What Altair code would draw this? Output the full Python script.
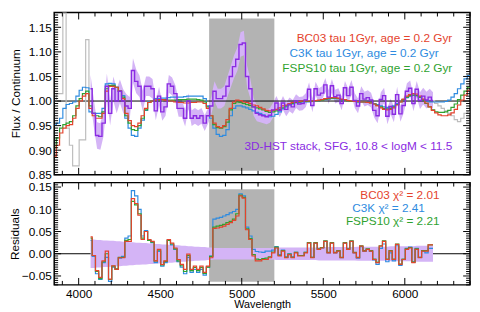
import altair as alt
import numpy as np
import pandas as pd

FONT = "Liberation Sans"

# ---- wavelength grid (bin centres, 20 A bins) ----
WAVE_START = 3853
WAVE_STEP = 20

# ---- model spectra (flux / continuum), bins 0..128 ----
BC03 = [0.888, 0.910, 0.935, 0.945, 0.950, 0.952, 0.965, 0.985, 1.000, 1.010,
        1.015, 0.985, 0.970, 0.965, 0.965, 0.975, 1.020, 1.030, 1.030, 1.028,
        1.020, 1.005, 0.975, 0.960, 0.950, 0.948, 0.955, 0.970, 0.985, 0.997,
        1.000, 1.002, 1.003, 1.003, 1.002, 1.000, 1.000, 0.998, 0.997, 0.997,
        0.996, 0.996, 0.997, 0.997, 0.998, 0.998, 0.995, 0.985, 0.970, 0.955,
        0.948, 0.946, 0.950, 0.962, 0.985, 0.998, 1.002, 1.001, 0.998, 0.997,
        0.995, 0.992, 0.990, 0.987, 0.984, 0.981, 0.980, 0.981, 0.983, 0.986,
        0.990, 0.992, 0.995, 0.997, 0.998, 0.999, 1.000, 1.000, 1.000, 1.000,
        1.001, 1.002, 1.003, 1.005, 1.006, 1.007, 1.007, 1.006, 1.004, 1.003,
        1.001, 1.000, 0.999, 0.999, 0.998, 0.998, 0.997, 0.996, 0.994, 0.990,
        0.986, 0.983, 0.982, 0.983, 0.986, 0.992, 0.998, 1.004, 1.010, 1.013,
        1.015, 1.014, 1.010, 1.004, 0.996, 0.988, 0.981, 0.976, 0.972, 0.970,
        0.970, 0.972, 0.976, 0.983, 0.992, 1.002, 1.012, 1.022, 1.030]
C3K = [0.951, 0.955, 0.965, 0.985, 0.993, 0.995, 0.998, 1.010, 1.022, 1.028,
       1.027, 0.978, 0.975, 0.975, 0.975, 0.985, 1.035, 1.036, 1.035, 1.028,
       1.020, 1.011, 0.965, 0.945, 0.930, 0.928, 0.945, 0.961, 0.981, 0.998,
       1.000, 1.005, 1.005, 1.006, 1.006, 1.007, 1.008, 1.008, 1.008, 1.008,
       1.009, 1.010, 1.010, 1.010, 1.010, 1.010, 1.005, 0.990, 0.965, 0.945,
       0.932, 0.928, 0.930, 0.942, 0.970, 0.985, 0.990, 0.990, 0.988, 0.986,
       0.983, 0.980, 0.977, 0.975, 0.972, 0.969, 0.968, 0.969, 0.973, 0.978,
       0.984, 0.988, 0.992, 0.994, 0.996, 0.997, 0.998, 0.998, 0.998, 0.999,
       1.000, 1.001, 1.002, 1.003, 1.004, 1.005, 1.005, 1.005, 1.003, 1.002,
       1.000, 0.999, 0.999, 0.998, 0.998, 0.998, 0.997, 0.997, 0.995, 0.993,
       0.990, 0.988, 0.987, 0.988, 0.990, 0.995, 0.999, 1.003, 1.007, 1.010,
       1.012, 1.011, 1.008, 1.003, 1.000, 0.998, 0.998, 0.998, 0.998, 0.998,
       0.999, 1.002, 1.008, 1.015, 1.025, 1.035, 1.045, 1.052, 1.058]
FSPS10 = [0.905, 0.925, 0.945, 0.952, 0.955, 0.958, 0.970, 0.990, 1.005, 1.015,
          1.020, 0.990, 0.975, 0.970, 0.968, 0.978, 1.025, 1.032, 1.032, 1.028,
          1.020, 1.008, 0.970, 0.955, 0.942, 0.940, 0.950, 0.965, 0.982, 0.997,
          1.000, 1.002, 1.002, 1.003, 1.003, 1.002, 1.002, 1.002, 1.003, 1.003,
          1.003, 1.004, 1.004, 1.004, 1.003, 1.002, 0.998, 0.988, 0.970, 0.952,
          0.946, 0.945, 0.948, 0.957, 0.982, 0.995, 0.998, 0.997, 0.995, 0.993,
          0.991, 0.988, 0.986, 0.984, 0.982, 0.979, 0.977, 0.978, 0.980, 0.983,
          0.986, 0.990, 0.993, 0.995, 0.997, 0.998, 0.999, 0.999, 0.999, 0.999,
          1.000, 1.001, 1.002, 1.004, 1.005, 1.006, 1.006, 1.005, 1.003, 1.002,
          1.000, 0.999, 0.999, 0.998, 0.998, 0.998, 0.997, 0.996, 0.994, 0.991,
          0.988, 0.985, 0.984, 0.985, 0.988, 0.993, 0.998, 1.003, 1.008, 1.011,
          1.012, 1.011, 1.008, 1.002, 0.995, 0.988, 0.982, 0.978, 0.977, 0.977,
          0.978, 0.981, 0.987, 0.994, 1.003, 1.012, 1.020, 1.028, 1.033]

# ---- 3D-HST stack, bins 11..116 ----
STACK_FIRST = 11
STACK = [1.025, 0.975, 0.930, 0.928, 0.955, 1.030, 0.975, 1.025, 1.000, 1.020,
         1.000, 0.990, 0.985, 1.062, 1.040, 1.030, 1.000, 1.030, 1.030, 1.025,
         0.980, 1.010, 0.978, 0.988, 1.035, 1.030, 1.015, 0.985, 0.985, 0.965,
         1.000, 0.965, 0.970, 0.965, 0.970, 0.955, 0.970, 0.990, 1.020, 1.005,
         1.005, 1.010, 1.030, 1.050, 1.070, 1.085, 1.115, 1.118, 1.050, 1.025,
         0.988, 0.975, 0.972, 0.970, 0.968, 0.971, 0.982, 0.996, 0.981, 0.996,
         0.983, 0.993, 0.988, 1.000, 0.994, 0.995, 1.002, 1.024, 0.991, 1.025,
         1.012, 1.016, 1.033, 1.008, 1.031, 1.009, 1.012, 0.995, 1.027, 1.011,
         1.028, 1.001, 0.990, 1.015, 1.004, 1.007, 1.002, 0.981, 0.970, 1.003,
         1.011, 0.969, 0.989, 0.973, 1.013, 0.974, 0.991, 1.020, 1.026, 0.995,
         1.024, 1.001, 1.010, 1.002, 1.008, 1.001]
STACK_ERR = [0.028, 0.028, 0.027, 0.027, 0.026, 0.026, 0.025, 0.025, 0.025, 0.024,
             0.024, 0.024, 0.023, 0.025, 0.024, 0.022, 0.021, 0.020, 0.020, 0.020,
             0.019, 0.019, 0.018, 0.018, 0.018, 0.018, 0.017, 0.017, 0.017, 0.017,
             0.016, 0.016, 0.016, 0.016, 0.016, 0.016, 0.016, 0.018, 0.020, 0.020,
             0.020, 0.020, 0.021, 0.022, 0.023, 0.024, 0.025, 0.025, 0.022, 0.020,
             0.018, 0.016, 0.015, 0.015, 0.015, 0.015, 0.015, 0.014, 0.014, 0.014,
             0.014, 0.014, 0.014, 0.014, 0.014, 0.014, 0.014, 0.014, 0.014, 0.014,
             0.014, 0.014, 0.014, 0.014, 0.014, 0.014, 0.014, 0.014, 0.014, 0.014,
             0.015, 0.015, 0.015, 0.015, 0.015, 0.015, 0.015, 0.015, 0.015, 0.015,
             0.016, 0.016, 0.016, 0.016, 0.016, 0.016, 0.016, 0.016, 0.016, 0.016,
             0.017, 0.017, 0.017, 0.017, 0.017, 0.017]
# stack outside the fitted range (grey): bins 0..11 and 116..128
GRAY_LEFT = [1.000, 1.015, 1.015, 1.250, 0.945, 0.910, 0.868, 0.868, 0.921, 0.921,
             1.125, 1.025]
GRAY_RIGHT_FIRST = 116
GRAY_RIGHT = [1.001, 0.995, 0.990, 0.985, 0.980, 0.975, 0.970, 0.962, 0.958, 0.965,
              0.975, 0.978, 0.978]

# ---- residuals, bins 11..116 ----
RES_BC03 = [0.038, -0.004, -0.038, -0.053, -0.016, 0.006, -0.057, -0.027, -0.035, -0.009,
            -0.009, 0.028, 0.028, 0.124, 0.113, 0.087, 0.032, 0.050, 0.032, 0.028,
            -0.016, 0.010, -0.024, -0.016, 0.032, 0.024, 0.013, -0.013, -0.024, -0.035,
            -0.001, -0.035, -0.028, -0.035, -0.028, -0.042, -0.028, -0.009, 0.057, 0.058,
            0.060, 0.062, 0.066, 0.070, 0.075, 0.085, 0.130, 0.125, 0.054, 0.032,
            -0.005, -0.016, -0.016, -0.013, -0.013, -0.009, 0.002, 0.013, -0.005, 0.006,
            -0.009, -0.002, -0.009, 0.002, -0.005, -0.005, 0.002, 0.024, -0.009, 0.024,
            0.010, 0.013, 0.028, 0.002, 0.024, 0.002, 0.006, -0.009, 0.024, 0.010,
            0.028, 0.002, -0.009, 0.017, 0.006, 0.010, 0.006, -0.013, -0.020, 0.017,
            0.028, -0.013, 0.006, -0.013, 0.021, -0.024, -0.013, 0.010, 0.013, -0.020,
            0.010, -0.009, 0.006, 0.006, 0.020, 0.020]
RES_C3K = [0.030, -0.006, -0.045, -0.058, -0.020, -0.008, -0.062, -0.030, -0.035, -0.010,
           -0.006, 0.035, 0.040, 0.142, 0.130, 0.100, 0.040, 0.052, 0.030, 0.025,
           -0.020, 0.005, -0.028, -0.020, 0.030, 0.020, 0.010, -0.018, -0.030, -0.045,
           -0.008, -0.042, -0.035, -0.042, -0.035, -0.048, -0.030, -0.005, 0.078, 0.080,
           0.082, 0.085, 0.088, 0.092, 0.095, 0.100, 0.135, 0.130, 0.060, 0.040,
           0.010, 0.005, 0.004, 0.003, 0.006, 0.006, 0.008, 0.016, -0.002, 0.008,
           -0.007, 0.000, -0.007, 0.003, -0.004, -0.004, 0.003, 0.025, -0.008, 0.024,
           0.010, 0.013, 0.028, 0.002, 0.024, 0.002, 0.006, -0.009, 0.024, 0.010,
           0.028, 0.002, -0.010, 0.016, 0.005, 0.010, 0.005, -0.014, -0.024, 0.012,
           0.022, -0.018, 0.002, -0.016, 0.018, -0.026, -0.013, 0.012, 0.015, -0.018,
           0.012, -0.008, 0.006, 0.002, 0.012, 0.012]
RES_FSPS10 = [0.035, -0.004, -0.040, -0.056, -0.018, 0.000, -0.058, -0.028, -0.034, -0.008,
              -0.008, 0.030, 0.032, 0.118, 0.110, 0.090, 0.035, 0.050, 0.030, 0.026,
              -0.016, 0.008, -0.025, -0.017, 0.030, 0.022, 0.011, -0.016, -0.027, -0.040,
              -0.004, -0.038, -0.031, -0.038, -0.031, -0.044, -0.030, -0.006, 0.060, 0.062,
              0.064, 0.066, 0.070, 0.073, 0.078, 0.090, 0.132, 0.127, 0.056, 0.034,
              -0.002, -0.012, -0.013, -0.011, -0.010, -0.007, 0.004, 0.015, -0.004, 0.007,
              -0.008, -0.001, -0.008, 0.003, -0.004, -0.004, 0.003, 0.025, -0.008, 0.025,
              0.011, 0.014, 0.029, 0.003, 0.025, 0.003, 0.007, -0.008, 0.025, 0.011,
              0.029, 0.003, -0.008, 0.018, 0.007, 0.011, 0.007, -0.012, -0.019, 0.018,
              0.029, -0.012, 0.007, -0.012, 0.022, -0.023, -0.012, 0.011, 0.014, -0.019,
              0.011, -0.008, 0.007, 0.007, 0.020, 0.020]
RES_ERR = [0.032, 0.032, 0.031, 0.031, 0.030, 0.030, 0.029, 0.029, 0.028, 0.028,
           0.027, 0.027, 0.026, 0.026, 0.025, 0.025, 0.024, 0.024, 0.023, 0.023,
           0.022, 0.022, 0.021, 0.021, 0.020, 0.020, 0.019, 0.019, 0.018, 0.018,
           0.017, 0.017, 0.016, 0.016, 0.015, 0.015, 0.014, 0.014, 0.013, 0.013,
           0.013, 0.013, 0.013, 0.013, 0.013, 0.013, 0.013, 0.013, 0.013, 0.013,
           0.013, 0.013, 0.013, 0.013, 0.013, 0.013, 0.013, 0.014, 0.014, 0.014,
           0.014, 0.014, 0.014, 0.014, 0.014, 0.014, 0.014, 0.014, 0.014, 0.014,
           0.015, 0.015, 0.015, 0.015, 0.015, 0.015, 0.015, 0.015, 0.015, 0.015,
           0.015, 0.015, 0.016, 0.016, 0.016, 0.016, 0.016, 0.016, 0.016, 0.016,
           0.016, 0.016, 0.017, 0.017, 0.017, 0.017, 0.017, 0.017, 0.017, 0.017,
           0.018, 0.018, 0.018, 0.018, 0.018, 0.018]

# ---- masked (excluded) region and annotations ----
MASK = [4800, 5200]
MASK_TOP_Y = [0.858, 1.168]
MASK_BOT_Y = [-0.063, 0.145]

TOP_LABELS = ["BC03 tau 1Gyr, age = 0.2 Gyr", "C3K tau 1Gyr, age = 0.2 Gyr",
              "FSPS10 tau 1Gyr, age = 0.2 Gyr", "3D-HST stack, SFG, 10.8 < logM < 11.5"]
TOP_LABEL_X = [6291, 6207, 6291, 6291]
TOP_LABEL_Y = [1.128, 1.097, 1.068, 0.908]
BOT_LABELS = ["BC03 \u03c7\u00b2 = 2.01", "C3K \u03c7\u00b2 = 2.41", "FSPS10 \u03c7\u00b2 = 2.21"]
BOT_LABEL_X = [6213, 6123, 6213]
BOT_LABEL_Y = [0.132, 0.1035, 0.0725]

RED, BLUE, GREEN, PURPLE = "#e4432d", "#2e8be0", "#2fa22f", "#8a2be2"
BAND = "#d4b4f6"
MASK_COLOR = "#b3b3b3"
GRAY_LINE = "#bdbdbd"
COLORS_TOP = [RED, BLUE, GREEN, PURPLE]
COLORS_BOT = [RED, BLUE, GREEN]

W, H_TOP, H_BOT = 423, 165, 104
X_DOMAIN = [3850, 6400]

xs = alt.Scale(domain=X_DOMAIN, nice=False, zero=False)
ys_top = alt.Scale(domain=[0.85, 1.18], nice=False, zero=False, clamp=True)
ys_bot = alt.Scale(domain=[-0.07, 0.16], nice=False, zero=False)

top_major = [0.85, 0.90, 0.95, 1.00, 1.05, 1.10, 1.15]
top_minor = [round(0.85 + 0.005 * k, 3) for k in range(0, 67) if k % 10 != 0]
bot_major = [-0.05, 0.0, 0.05, 0.10, 0.15]
bot_minor = [round(-0.07 + 0.005 * k, 3) for k in range(0, 47) if (k % 10) != 4]

top_yaxis = alt.Axis(values=top_major, format=".2f", ticks=False, tickSize=0, domain=False,
                     grid=False, labelPadding=3, title="Flux / Continuum",
                     titleX=-35, titleY=82, titleAngle=270, titleAlign="center",
                     titleBaseline="alphabetic")
bot_yaxis = alt.Axis(values=bot_major, format=".2f", ticks=False, tickSize=0, domain=False,
                     grid=False, labelPadding=3, title="Residuals",
                     titleX=-36, titleY=52, titleAngle=270, titleAlign="center",
                     titleBaseline="alphabetic")
bot_xaxis = alt.Axis(values=[4000, 4500, 5000, 5500, 6000], format="d", ticks=False,
                     tickSize=0, domain=False, grid=False, labelPadding=4,
                     title="Wavelength", titleFontSize=11, titleY=23.5, titleX=W / 2,
                     titleBaseline="alphabetic")


def wave(first, n):
    return WAVE_START + WAVE_STEP * (first + np.arange(n))


class Panel:
    def __init__(self, ysc, xaxis, yaxis, height):
        self.ysc, self.xaxis, self.yaxis, self.h = ysc, xaxis, yaxis, height

    def X(self, f):
        return alt.X(f, scale=xs, axis=self.xaxis)

    def Y(self, f):
        return alt.Y(f, scale=self.ysc, axis=self.yaxis)

    def step(self, values, first, color, width=1.2):
        df = pd.DataFrame({"w": wave(first, len(values)), "v": values})
        return alt.Chart(df).mark_line(interpolate="step", color=color, strokeWidth=width,
                                       clip=True).encode(x=self.X("w:Q"), y=self.Y("v:Q"))

    def band(self, center, err, first):
        c = np.asarray(center, dtype=float)
        e = np.asarray(err, dtype=float)
        df = pd.DataFrame({"w": wave(first, len(c)), "lo": c - e, "hi": c + e})
        return alt.Chart(df).mark_area(color=BAND, opacity=1, clip=True).encode(
            x=self.X("w:Q"), y=self.Y("lo:Q"), y2="hi:Q")

    def mask(self, ylims):
        d = pd.DataFrame({"x1": [MASK[0]], "x2": [MASK[1]], "y1": [ylims[0]], "y2": [ylims[1]]})
        return alt.Chart(d).mark_rect(color=MASK_COLOR).encode(
            x=self.X("x1:Q"), x2="x2:Q", y=self.Y("y1:Q"), y2="y2:Q")

    def hline(self, val):
        return alt.Chart(pd.DataFrame({"v": [val]})).mark_rule(
            color="black", strokeWidth=1).encode(y=self.Y("v:Q"))

    def labels(self, texts, xs_, ys_, cols):
        d = pd.DataFrame({"t": texts, "x": xs_, "y": ys_, "c": cols})
        return alt.Chart(d).mark_text(align="right", baseline="middle", font=FONT,
                                      fontSize=12).encode(
            x=self.X("x:Q"), y=self.Y("y:Q"), text="t:N", color=alt.Color("c:N", scale=None))

    def ticks(self, y_major, y_minor):
        x_major = [4000, 4500, 5000, 5500, 6000]
        x_minor = [v for v in range(3900, 6401, 100) if v not in x_major]
        out = []
        for vals, ln in ((x_major, 7), (x_minor, 4)):
            base = alt.Chart(pd.DataFrame({"t": vals})).mark_rule(color="black", strokeWidth=1)
            out.append(base.encode(x=self.X("t:Q"), y=alt.value(self.h),
                                   y2=alt.value(self.h - ln)))
            out.append(base.encode(x=self.X("t:Q"), y=alt.value(0), y2=alt.value(ln)))
        for vals, ln in ((y_major, 7), (y_minor, 4)):
            base = alt.Chart(pd.DataFrame({"t": vals})).mark_rule(color="black", strokeWidth=1)
            out.append(base.encode(y=self.Y("t:Q"), x=alt.value(0), x2=alt.value(ln)))
            out.append(base.encode(y=self.Y("t:Q"), x=alt.value(W), x2=alt.value(W - ln)))
        return out


pt = Panel(ys_top, None, top_yaxis, H_TOP)
pb = Panel(ys_bot, bot_xaxis, bot_yaxis, H_BOT)

top = alt.layer(
    pt.mask(MASK_TOP_Y),
    pt.band(STACK, STACK_ERR, STACK_FIRST),
    pt.hline(1.0),
    pt.step(GRAY_LEFT, 0, GRAY_LINE),
    pt.step(GRAY_RIGHT, GRAY_RIGHT_FIRST, GRAY_LINE),
    pt.step(C3K, 0, BLUE),
    pt.step(FSPS10, 0, GREEN),
    pt.step(BC03, 0, RED),
    pt.step(STACK, STACK_FIRST, PURPLE, 1.4),
    *pt.ticks(top_major, top_minor),
    pt.labels(TOP_LABELS, TOP_LABEL_X, TOP_LABEL_Y, COLORS_TOP),
).properties(width=W, height=H_TOP)

bottom = alt.layer(
    pb.mask(MASK_BOT_Y),
    pb.hline(0.0),
    pb.band(np.zeros(len(RES_ERR)), RES_ERR, STACK_FIRST),
    pb.step(RES_C3K, STACK_FIRST, BLUE),
    pb.step(RES_FSPS10, STACK_FIRST, GREEN),
    pb.step(RES_BC03, STACK_FIRST, RED),
    *pb.ticks(bot_major, bot_minor),
    pb.labels(BOT_LABELS, BOT_LABEL_X, BOT_LABEL_Y, COLORS_BOT),
).properties(width=W, height=H_BOT)

chart = alt.vconcat(top, bottom, spacing=8, bounds="flush").properties(
    padding=0, background="white"
).configure_view(stroke="black", strokeWidth=1.5).configure_axis(
    labelFont=FONT, titleFont=FONT, labelFontSize=12, titleFontSize=12,
    labelColor="black", titleColor="black", titleFontWeight="normal"
)

chart.save("out.html", embed_options={"renderer": "svg", "actions": False})
